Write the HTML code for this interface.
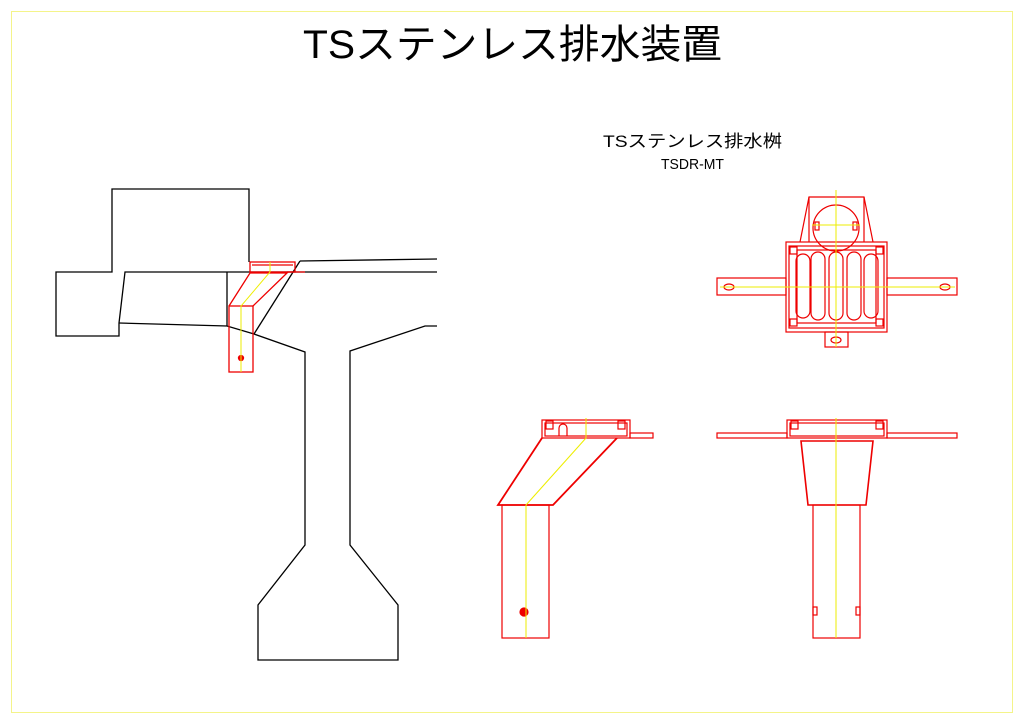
<!DOCTYPE html>
<html><head><meta charset="utf-8"><style>html,body{margin:0;padding:0;background:#fff;width:1024px;height:724px;overflow:hidden}</style></head>
<body>
<svg width="1024" height="724" viewBox="0 0 1024 724" xmlns="http://www.w3.org/2000/svg">
<rect x="11.5" y="11.5" width="1001" height="701" fill="none" stroke="#f4f48a" stroke-width="1"/>
<text x="303" y="58" font-size="40" textLength="419" lengthAdjust="spacingAndGlyphs" font-family="'Liberation Sans','Noto Sans CJK JP',sans-serif">TSステンレス排水装置</text>
<text x="603" y="147" font-size="17" textLength="179" lengthAdjust="spacingAndGlyphs" font-family="'Liberation Sans','Noto Sans CJK JP',sans-serif">TSステンレス排水桝</text>
<text x="661" y="169" font-size="15" textLength="63" lengthAdjust="spacingAndGlyphs" font-family="'Liberation Sans','Noto Sans CJK JP',sans-serif">TSDR-MT</text>

<g fill="none" stroke="#000" stroke-width="1.3">
<polyline points="249,262 249,189 112,189 112,272 56,272 56,336 119,336 119,323 125,272 437,272"/>
<polyline points="300,261 437,259"/>
<polyline points="300,261 254,334"/>
<polyline points="227,272 227,326"/>
<polyline points="119,323 227,326 254,334 305,352 305,545 258,605 258,660 398,660 398,605 350,545 350,351 425,326 437,326"/>
</g>
<g fill="none" stroke="#e00" stroke-width="1.3">
<rect x="229" y="306" width="24" height="66"/>
<polyline points="229,306 250,273 287,273 253,306"/>
<rect x="250" y="262" width="45" height="10"/>
<line x1="252" y1="265" x2="293" y2="265"/>
<line x1="287" y1="272" x2="305" y2="272"/>
<circle cx="241" cy="358" r="2.5" fill="#e00"/>
</g>
<polyline points="241,372 241,306 270,272 270,262" fill="none" stroke="#ee0" stroke-width="1"/>

<g fill="none" stroke="#e00" stroke-width="1.2">
<polyline points="800,242 809,197 864,197 873,242"/>
<line x1="809" y1="197" x2="809" y2="242"/>
<line x1="864" y1="197" x2="864" y2="242"/>
<circle cx="836" cy="228" r="23"/>
<rect x="786" y="242" width="101" height="90"/>
<rect x="789" y="246" width="95" height="82"/>
<rect x="797" y="250" width="79" height="73"/>
<rect x="796" y="254" width="14" height="64" rx="7"/>
<rect x="811" y="252" width="14" height="68" rx="7"/>
<rect x="829" y="252" width="14" height="68" rx="7"/>
<rect x="847" y="252" width="14" height="68" rx="7"/>
<rect x="864" y="254" width="14" height="64" rx="7"/>
<rect x="717" y="278" width="69" height="17"/>
<rect x="887" y="278" width="70" height="17"/>
<rect x="825" y="332" width="23" height="15"/>
<ellipse cx="729" cy="287" rx="5" ry="3"/>
<ellipse cx="945" cy="287" rx="5" ry="3"/>
<ellipse cx="836" cy="340" rx="5" ry="3"/>
<rect x="790" y="247" width="7" height="7"/><rect x="876" y="247" width="7" height="7"/>
<rect x="790" y="319" width="7" height="7"/><rect x="876" y="319" width="7" height="7"/>
<rect x="815" y="222" width="4" height="8"/><rect x="853" y="222" width="4" height="8"/>
</g>
<g stroke="#ee0" stroke-width="1"><line x1="720" y1="287" x2="955" y2="287"/><line x1="836" y1="190" x2="836" y2="347"/><line x1="812" y1="225" x2="860" y2="225"/></g>

<g fill="none" stroke="#e00" stroke-width="1.2">
<rect x="542" y="420" width="88" height="18"/>
<rect x="545" y="423" width="82" height="13"/>
<rect x="630" y="433" width="23" height="5"/>
<polyline points="542,438 498,505 553,505 617,438" stroke-width="1.8"/>
<rect x="502" y="505" width="47" height="133"/>
<path d="M559 436 V428 a4 4 0 0 1 8 0 V436"/>
<rect x="546" y="421" width="7" height="8"/><rect x="618" y="421" width="7" height="8"/>
<circle cx="524" cy="612" r="4" fill="#e00"/>
</g>
<polyline points="586,418 586,438 526,505 526,638" fill="none" stroke="#ee0" stroke-width="1"/>

<g fill="none" stroke="#e00" stroke-width="1.2">
<rect x="787" y="420" width="100" height="18"/>
<rect x="790" y="423" width="94" height="13"/>
<rect x="717" y="433" width="70" height="5"/>
<rect x="887" y="433" width="70" height="5"/>
<polygon points="801,441 873,441 866,505 808,505" stroke-width="1.6"/>
<rect x="813" y="505" width="47" height="133"/>
<rect x="791" y="421" width="7" height="8"/><rect x="876" y="421" width="7" height="8"/>
<rect x="813" y="607" width="4" height="8"/><rect x="856" y="607" width="4" height="8"/>
</g>
<line x1="836" y1="418" x2="836" y2="638" stroke="#ee0" stroke-width="1"/>
</svg>
</body></html>
